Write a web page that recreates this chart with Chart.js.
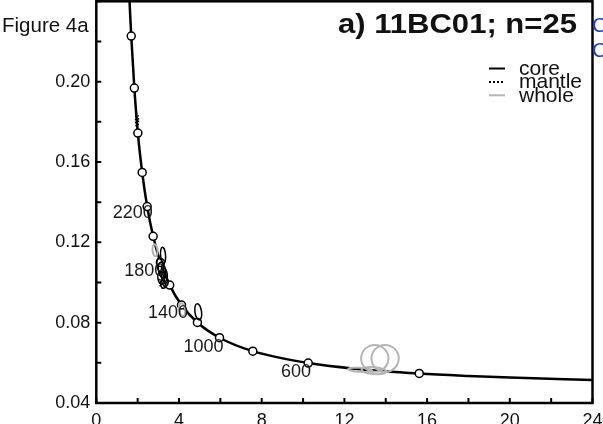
<!DOCTYPE html>
<html>
<head>
<meta charset="utf-8">
<script src="https://cdn.jsdelivr.net/npm/chart.js@4.4.0/dist/chart.umd.min.js"></script>
<style>
  html, body { margin: 0; padding: 0; background: #fff; }
  #wrap { width: 603px; height: 424px; position: relative; }
</style>
</head>
<body>
<div id="wrap"><canvas id="chart" width="603" height="424"></canvas></div>
<script>
// concordia curve (238U/206Pb vs 207Pb/206Pb)
const curveX = [1.60, 1.69, 1.84, 2.01, 2.22, 2.46, 2.75, 3.10, 3.55, 4.12, 4.89, 5.96, 7.57, 10.25, 12.5, 15.62, 18, 20, 24];
const curveY = [0.2415, 0.2227, 0.1968, 0.1744, 0.1548, 0.1378, 0.1230, 0.1100, 0.0987, 0.0888, 0.0801, 0.0725, 0.0658, 0.0599, 0.0571, 0.0547, 0.0535, 0.0527, 0.0515];

// age ticks on the curve (Ma)
const markerAges = [3000, 2800, 2600, 2400, 2200, 2000, 1800, 1600, 1400, 1200, 1000, 800, 600, 400];
const markerX = [1.69, 1.84, 2.01, 2.22, 2.46, 2.75, 3.10, 3.55, 4.12, 4.89, 5.96, 7.57, 10.25, 15.62];
const markerY = [0.2227, 0.1968, 0.1744, 0.1548, 0.1378, 0.1230, 0.1100, 0.0987, 0.0888, 0.0801, 0.0725, 0.0658, 0.0599, 0.0547];

// age labels written next to the curve
const ageLabels = ['2200', '1800', '1400', '1000', '600'];
const ageLabelX = [1.76, 2.32, 3.47, 5.19, 9.66];
const ageLabelY = [0.1344, 0.1056, 0.0847, 0.0680, 0.0555];

// error ellipses: centre, half widths (axis units), tilt in degrees, domain
const ellX    = [2.84, 4.15, 13.47, 13.97, 12.76, 13.43, 4.93, 3.23, 3.08, 3.18, 3.28, 3.13, 3.32, 3.23, 1.97, 3.18];
const ellY    = [0.1160, 0.0865, 0.0622, 0.0622, 0.0565, 0.0561, 0.0854, 0.1135, 0.1086, 0.1061, 0.1041, 0.1021, 0.1006, 0.0991, 0.1806, 0.0996];
const ellRx   = [0.12, 0.15, 0.66, 0.66, 0.58, 0.60, 0.16, 0.12, 0.15, 0.17, 0.15, 0.15, 0.15, 0.12, 0.07, 0.12];
const ellRy   = [0.0030, 0.0032, 0.0067, 0.0067, 0.0010, 0.0017, 0.0041, 0.0040, 0.0035, 0.0040, 0.0035, 0.0030, 0.0025, 0.0020, 0.0035, 0.0025];
const ellTilt = [-5, -10, 0, 0, 4, 4, -8, -5, -10, -10, -10, -10, -10, -10, 0, -10];
const ellType = ['whole', 'whole', 'whole', 'whole', 'whole', 'whole', 'core', 'core', 'core', 'core', 'core', 'core', 'core', 'core', 'mantle', 'mantle'];

// labelled axis ticks
const xTicks = [0, 4, 8, 12, 16, 20, 24];
const yTicks = [0.04, 0.08, 0.12, 0.16, 0.20];

const legendItems = ['core', 'mantle', 'whole'];

const FONT = "'Liberation Sans', Arial, Helvetica, sans-serif";
Chart.defaults.font.family = FONT;

const styles = {
    core:   { color: '#000', width: 1.5, dash: [] },
    mantle: { color: '#000', width: 1.5, dash: [1.5, 1.5] },
    whole:  { color: '#b4b4b4', width: 2, dash: [] }
};

// pull the plot box up to the top edge like the original figure
const plotTop = {
    id: 'plotTop',
    afterLayout(chart) {
        const y = chart.scales.y;
        const top = 1.3;
        chart.chartArea.top = top;
        chart.chartArea.height = chart.chartArea.bottom - top;
        y.top = top;
        y.height = y.bottom - top;
        y.configure();
    }
};

// draws the error ellipses through the chart scales
const ellipses = {
    id: 'ellipses',
    afterDatasetsDraw(chart) {
        const { ctx, chartArea: a, scales: { x, y } } = chart;
        ctx.save();
        ctx.beginPath();
        ctx.rect(a.left, a.top, a.right - a.left, a.bottom - a.top);
        ctx.clip();
        ellX.forEach((ex, i) => {
            const cx = x.getPixelForValue(ex);
            const cy = y.getPixelForValue(ellY[i]);
            const rx = Math.abs(x.getPixelForValue(ex + ellRx[i]) - cx);
            const ry = Math.abs(y.getPixelForValue(ellY[i] + ellRy[i]) - cy);
            const s = styles[ellType[i]];
            ctx.strokeStyle = s.color;
            ctx.lineWidth = s.width;
            ctx.setLineDash(s.dash);
            ctx.beginPath();
            ctx.ellipse(cx, cy, rx, ry, ellTilt[i] * Math.PI / 180, 0, Math.PI * 2);
            ctx.stroke();
        });
        ctx.restore();
    }
};

// box, inward ticks and the text on the figure
const decor = {
    id: 'decor',
    afterDraw(chart) {
        const { ctx, chartArea: a, scales: { x, y } } = chart;
        ctx.save();
        ctx.strokeStyle = '#000';
        ctx.lineWidth = 2.5;
        ctx.strokeRect(a.left, a.top, a.right - a.left, a.bottom - a.top);

        ctx.lineWidth = 2;
        ctx.beginPath();
        x.ticks.forEach(t => {
            const px = x.getPixelForValue(t.value);
            ctx.moveTo(px, a.bottom);
            ctx.lineTo(px, a.bottom - 5);
        });
        y.ticks.forEach(t => {
            const py = y.getPixelForValue(t.value);
            ctx.moveTo(a.left, py);
            ctx.lineTo(a.left + 5, py);
        });
        ctx.stroke();

        // age labels
        ctx.fillStyle = '#1a1a1a';
        ctx.font = '18px ' + FONT;
        ctx.textAlign = 'center';
        ctx.textBaseline = 'middle';
        ageLabels.forEach((t, i) => {
            ctx.fillText(t, x.getPixelForValue(ageLabelX[i]), y.getPixelForValue(ageLabelY[i]));
        });

        // figure tag and title
        ctx.textBaseline = 'alphabetic';
        ctx.textAlign = 'left';
        ctx.fillStyle = '#111';
        ctx.font = '20.5px ' + FONT;
        ctx.fillText('Figure 4a', 2, 32);

        ctx.save();
        ctx.translate(577, 33.3);
        ctx.scale(1.15, 1);
        ctx.textAlign = 'right';
        ctx.font = 'bold 27px ' + FONT;
        ctx.fillText('a) 11BC01; n=25', 0, 0);
        ctx.restore();

        // cut off text to the right of the box
        ctx.textAlign = 'left';
        ctx.fillStyle = '#1f3fbf';
        ctx.font = '21px ' + FONT;
        ctx.fillText('Concordia', 592, 32);
        ctx.fillText('Common', 592, 57);

        // legend
        ctx.fillStyle = '#111';
        ctx.font = '21px ' + FONT;
        legendItems.forEach((name, i) => {
            const ly = 68.5 + i * 13.4;
            const s = styles[name];
            ctx.strokeStyle = s.color;
            ctx.lineWidth = 2;
            ctx.setLineDash(name === 'mantle' ? [2, 2] : []);
            ctx.beginPath();
            ctx.moveTo(489, ly);
            ctx.lineTo(505, ly);
            ctx.stroke();
            ctx.fillText(name, 519, ly + 6.5);
        });
        ctx.restore();
    }
};

new Chart(document.getElementById('chart'), {
    type: 'scatter',
    data: {
        datasets: [{
            type: 'line',
            data: curveX.map((v, i) => ({ x: v, y: curveY[i] })),
            borderColor: '#000',
            borderWidth: 2.5,
            pointRadius: 0,
            cubicInterpolationMode: 'monotone',
            fill: false,
            order: 2
        }, {
            data: markerX.map((v, i) => ({ x: v, y: markerY[i], age: markerAges[i] })),
            pointRadius: 4,
            pointBorderWidth: 1.5,
            pointBackgroundColor: '#fff',
            pointBorderColor: '#000',
            order: 1
        }]
    },
    plugins: [plotTop, ellipses, decor],
    options: {
        responsive: false,
        animation: false,
        layout: { padding: { top: 1.3, right: 10.5, left: 0, bottom: 0 } },
        plugins: { legend: { display: false }, tooltip: { enabled: false } },
        scales: {
            x: {
                type: 'linear',
                min: 0, max: 24,
                afterFit: s => { s.height = 21; s.paddingLeft = 0; s.paddingRight = 0; },
                border: { display: false },
                grid: { display: false, drawTicks: false },
                ticks: {
                    stepSize: 2,
                    padding: 7,
                    color: '#111',
                    font: { size: 18 },
                    maxRotation: 0,
                    autoSkip: false,
                    callback: v => xTicks.includes(v) ? String(v) : ''
                }
            },
            y: {
                type: 'linear',
                min: 0.04, max: 0.24,
                afterFit: s => { s.width = 96.3; s.paddingTop = 0; s.paddingBottom = 0; },
                border: { display: false },
                grid: { display: false, drawTicks: false },
                ticks: {
                    stepSize: 0.02,
                    padding: 6,
                    color: '#111',
                    font: { size: 18 },
                    autoSkip: false,
                    callback: v => yTicks.some(t => Math.abs(t - v) < 1e-6) ? v.toFixed(2) : ''
                }
            }
        }
    }
});
</script>
</body>
</html>
